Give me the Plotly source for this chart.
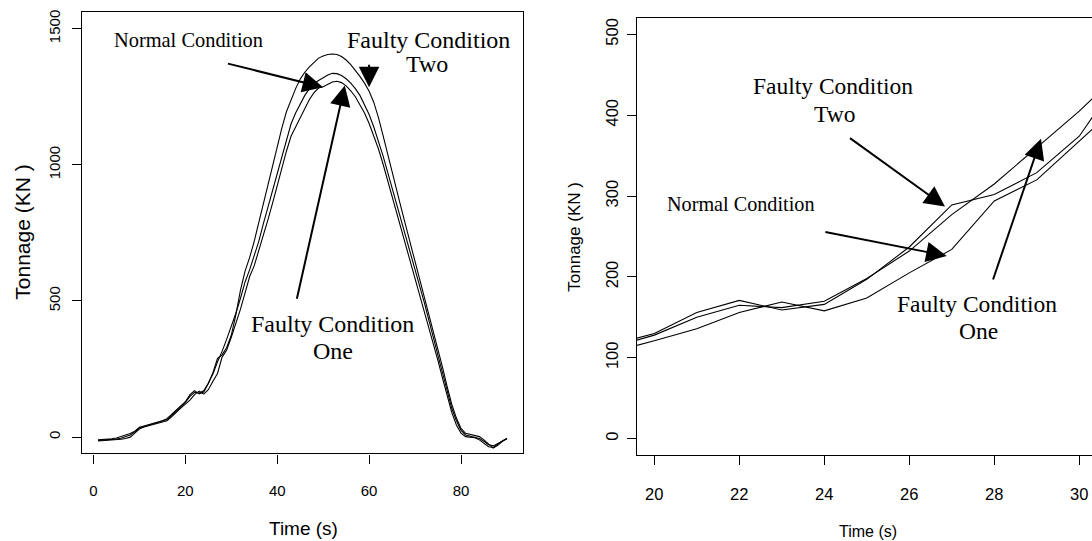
import plotly.graph_objects as go

# Press tonnage signals sampled once per second
time_s = list(range(1, 91))

normal = [
    -14, -13, -12, -11, -10, -8, -5, 0, 15, 30,
    37, 42, 46, 50, 55, 60, 75, 92, 107, 121,
    136, 156, 169, 158, 174, 205, 234, 294, 320, 367,
    416, 470, 530, 590, 630, 690, 745, 800, 860, 925,
    990, 1050, 1105, 1140, 1175, 1210, 1240, 1265, 1282, 1287,
    1295, 1304, 1307, 1302, 1290, 1272, 1250, 1222, 1190, 1152,
    1108, 1060, 1005, 945, 885, 825, 765, 705, 650, 590,
    530, 465, 400, 340, 280, 215, 150, 90, 45, 15,
    2, 0, -2, -10, -22, -35, -38, -26, -14, -6,
]

faulty_one = [
    -12, -11, -10, -9, -7, -4, 1, 8, 20, 34,
    39, 44, 48, 53, 58, 65, 80, 97, 113, 128,
    150, 165, 162, 170, 198, 232, 277, 315, 360, 405,
    455, 510, 570, 615, 665, 720, 785, 845, 905, 965,
    1030, 1095, 1150, 1190, 1225, 1255, 1280, 1298, 1310, 1320,
    1330, 1336, 1335, 1328, 1316, 1300, 1280, 1255, 1222, 1185,
    1140, 1090, 1035, 975, 915, 855, 795, 735, 680, 620,
    560, 495, 430, 365, 300, 235, 165, 105, 60, 25,
    8, 3, 0, -5, -15, -28, -32, -24, -14, -6,
]

faulty_two = [
    -10, -9, -8, -6, -3, 2, 8, 13, 22, 36,
    41, 46, 50, 55, 60, 68, 84, 100, 116, 130,
    156, 171, 159, 166, 197, 237, 289, 302, 329, 374,
    450, 540, 610, 660, 720, 790, 860, 930, 1000, 1065,
    1135, 1195, 1240, 1280, 1315, 1340, 1360, 1378, 1392, 1400,
    1405, 1407, 1405, 1398, 1385, 1368, 1348, 1325, 1300, 1270,
    1230, 1175, 1110, 1040, 970, 905, 840, 775, 710, 650,
    590, 525, 460, 395, 325, 255, 185, 120, 70, 32,
    14, 10, 8, 2, -10, -25, -40, -30, -15, -4,
]

left_xticks = [0, 20, 40, 60, 80]
left_yticks = [0, 500, 1000, 1500]
right_xticks = [20, 22, 24, 26, 28, 30]
right_yticks = [0, 100, 200, 300, 400, 500]

W, H = 1092, 541
SANS = "Liberation Sans, Arial, Helvetica, sans-serif"
SERIF = "Liberation Serif, Times New Roman, serif"

fig = go.Figure()
for series in (normal, faulty_one, faulty_two):
    for xa, ya in (("x", "y"), ("x2", "y2")):
        fig.add_trace(go.Scatter(
            x=time_s, y=series, mode="lines",
            line=dict(color="black", width=1.1),
            xaxis=xa, yaxis=ya, showlegend=False, hoverinfo="skip",
        ))


def axis(**kw):
    base = dict(
        showline=True, linecolor="black", linewidth=1.3,
        ticks="outside", ticklen=9, tickwidth=1.2, tickcolor="black",
        showgrid=False, zeroline=False,
    )
    base.update(kw)
    return base


def px(x, y):
    """Pixel position on the page -> paper coordinates."""
    return x / W, 1 - y / H


fig.update_layout(
    width=W, height=H,
    margin=dict(l=0, r=0, t=0, b=0),
    paper_bgcolor="white", plot_bgcolor="white",
    xaxis=axis(domain=[81.7 / W, 523.3 / W], range=[-2.56, 93.56],
               tickvals=left_xticks, mirror=True, anchor="y",
               tickfont=dict(family=SANS, size=15, color="black"),
               ticklabelstandoff=14),
    yaxis=axis(domain=[1 - 453 / H, 1 - 9.4 / H], range=[-60, 1560],
               tickvals=left_yticks, mirror=True, anchor="x", tickangle=-90,
               tickfont=dict(family=SANS, size=15, color="black"),
               ticklabelstandoff=6),
    xaxis2=axis(domain=[636.7 / W, 1.0], range=[19.586, 30.30],
                tickvals=right_xticks, mirror=True, anchor="y2",
                tickfont=dict(family=SANS, size=16.5, color="black"),
                ticklabelstandoff=15),
    yaxis2=axis(domain=[1 - 454.3 / H, 1 - 15.3 / H], range=[-20, 520],
                tickvals=right_yticks, mirror=False, anchor="x2", tickangle=-90,
                tickfont=dict(family=SANS, size=16.5, color="black"),
                ticklabelstandoff=2),
)

annotations = []

# axis titles
for (x, y), text, size, angle in [
    ((303, 528), "Time (s)", 19, 0),
    ((23, 231), "Tonnage (KN )", 21, -90),
    ((868, 531), "Time (s)", 16, 0),
    ((575, 235), "Tonnage (KN )", 17, -90),
]:
    xp, yp = px(x, y)
    annotations.append(dict(
        x=xp, y=yp, xref="paper", yref="paper", text=text, showarrow=False,
        textangle=angle, xanchor="center", yanchor="middle",
        font=dict(family=SANS, size=size, color="black"),
    ))

# condition labels (data coordinates of each panel)
labels = [
    ("x", "y", 20.6, 1457, "Normal Condition", 20.4),
    ("x", "y", 73.0, 1460, "Faulty Condition", 24),
    ("x", "y", 72.6, 1370, "Two", 24),
    ("x", "y", 52.0, 415, "Faulty Condition", 24),
    ("x", "y", 52.2, 318, "One", 24),
    ("x2", "y2", 24.2, 436, "Faulty Condition", 23.5),
    ("x2", "y2", 24.24, 402, "Two", 23.5),
    ("x2", "y2", 22.03, 290, "Normal Condition", 20.2),
    ("x2", "y2", 27.6, 167, "Faulty Condition", 23.5),
    ("x2", "y2", 27.62, 133, "One", 23.5),
]
for xr, yr, x, y, text, size in labels:
    annotations.append(dict(
        x=x, y=y, xref=xr, yref=yr, text=text, showarrow=False,
        xanchor="center", yanchor="middle",
        font=dict(family=SERIF, size=size, color="black"),
    ))

# pointer arrows: (axes, tail, head)
arrows = [
    ("x", "y", (28.95, 1373), (49.98, 1285)),
    ("x", "y", (59.99, 1373), (59.99, 1285)),
    ("x", "y", (44.2, 503), (54.7, 1291)),
    ("x2", "y2", (24.57, 373), (26.84, 287)),
    ("x2", "y2", (23.99, 256), (26.88, 226)),
    ("x2", "y2", (27.96, 195), (29.10, 371)),
]
for xr, yr, (tx, ty), (hx, hy) in arrows:
    annotations.append(dict(
        x=hx, y=hy, ax=tx, ay=ty, xref=xr, yref=yr, axref=xr, ayref=yr,
        text="", showarrow=True, arrowhead=2, arrowsize=2.05, arrowwidth=2,
        arrowcolor="black", standoff=0,
    ))

fig.update_layout(annotations=annotations)

fig.write_html("out.html")
